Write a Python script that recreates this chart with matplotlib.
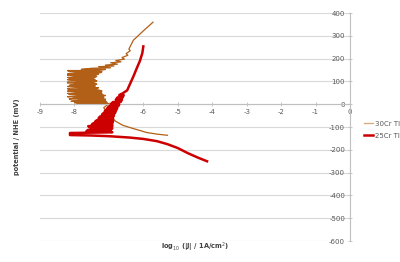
import matplotlib.pyplot as plt

# 30Cr TI: sweep from the cathodic tail up through the noisy passive band to the top
cr30_tail_x = [-5.3, -5.6, -5.9, -6.1, -6.35, -6.6, -6.8, -6.95, -7.05, -7.15]
cr30_tail_y = [-136, -131, -124, -115, -104, -92, -75, -55, -35, -15]

# noisy band: each level has a left and a right end
cr30_band_y = [3, 8, 13, 18, 23, 28, 33, 38, 43, 48, 53, 58, 63, 68, 73, 78,
               83, 88, 93, 98, 103, 108, 113, 118, 123, 128, 133, 138, 143, 148, 153]
cr30_band_left = [-7.9, -8.0, -8.1, -7.85, -8.15, -8.0, -8.2, -7.9, -8.15, -8.2,
                  -7.95, -8.2, -8.1, -8.2, -7.85, -8.2, -8.15, -8.0, -8.2, -8.2,
                  -7.9, -8.2, -8.15, -8.2, -8.0, -8.2, -8.2, -7.95, -8.15, -8.2, -7.8]
cr30_band_right = [-7.0, -7.05, -7.1, -7.1, -7.1, -7.15, -7.15, -7.1, -7.2, -7.2,
                   -7.25, -7.2, -7.3, -7.35, -7.3, -7.4, -7.4, -7.35, -7.45, -7.4,
                   -7.35, -7.4, -7.45, -7.4, -7.35, -7.4, -7.3, -7.25, -7.2, -7.3, -7.1]

cr30_top_x = [-7.5, -6.95, -7.3, -6.85, -7.1, -6.75, -6.95, -6.65, -6.8, -6.55,
              -6.62, -6.45, -6.5, -6.38, -6.42, -6.29, -6.0, -5.72]
cr30_top_y = [158, 160, 165, 168, 172, 176, 182, 186, 192, 198,
              205, 215, 222, 235, 242, 281, 322, 360]

# 25Cr TI: cathodic branch, then the thick stepped band, then the thin anodic line
cr25_cath_x = [-4.15, -4.4, -4.7, -5.0, -5.3, -5.6, -6.0, -6.4, -6.7, -7.0, -7.5, -8.13, -8.13, -6.9]
cr25_cath_y = [-250, -235, -215, -192, -175, -162, -152, -146, -143, -140, -137, -135, -126, -123]

cr25_band_y = [-118, -112, -105, -96, -90, -83, -76, -70, -61, -53, -45, -38, -30, -24, -18, -9, 0, 10, 20, 30, 40]
cr25_band_left = [-7.65, -7.6, -7.5, -7.6, -7.5, -7.45, -7.4, -7.35, -7.3, -7.25, -7.2, -7.15, -7.12, -7.08,
                  -7.05, -7.0, -6.95, -6.88, -6.8, -6.75, -6.7]
cr25_band_right = [-6.95, -6.95, -6.9, -6.9, -6.9, -6.9, -6.88, -6.88, -6.88, -6.86, -6.85, -6.82, -6.8, -6.78,
                   -6.76, -6.73, -6.7, -6.66, -6.62, -6.6, -6.57]

cr25_top_x = [-6.6, -6.47, -6.37, -6.28, -6.18, -6.1, -6.03, -6.0]
cr25_top_y = [48, 61, 95, 125, 162, 190, 224, 254]

xticks = [-9, -8, -7, -6, -5, -4, -3, -2, -1, 0]
yticks = [400, 300, 200, 100, 0, -100, -200, -300, -400, -500, -600]


def zigzag(ys, lefts, rights):
    xs, yy = [], []
    for i in range(len(ys)):
        if i % 2 == 0:
            xs += [rights[i], lefts[i]]
        else:
            xs += [lefts[i], rights[i]]
        yy += [ys[i], ys[i]]
    return xs, yy


bx, by = zigzag(cr30_band_y, cr30_band_left, cr30_band_right)
cr30_x = cr30_tail_x + bx + cr30_top_x
cr30_y = cr30_tail_y + by + cr30_top_y

rx, ry = zigzag(cr25_band_y, cr25_band_left, cr25_band_right)
cr25_x = cr25_cath_x + rx + cr25_top_x
cr25_y = cr25_cath_y + ry + cr25_top_y

fig = plt.figure(figsize=(4, 2.62), dpi=100)
ax = fig.add_axes([0.1, 0.08, 0.775, 0.87])

for t in yticks:
    ax.axhline(t, color='#D9D9D9', lw=0.8, zorder=0)

ax.plot(cr30_x, cr30_y, color='#B25F18', lw=0.9, label='30Cr TI', zorder=2)
ax.plot(cr25_x, cr25_y, color='#CC0000', lw=1.8, label='25Cr TI', zorder=3)

ax.set_xlim(-9, 0)
ax.set_ylim(-600, 400)
ax.set_xticks(xticks)
ax.set_yticks(yticks)
ax.set_xticklabels([str(t) for t in xticks])
ax.set_yticklabels([str(t) for t in yticks])

ax.spines['top'].set_visible(False)
ax.spines['right'].set_visible(False)
ax.spines['left'].set_position(('data', 0))
ax.spines['bottom'].set_position(('data', 0))
for s in ['left', 'bottom']:
    ax.spines[s].set_color('#BFBFBF')
    ax.spines[s].set_linewidth(0.8)
ax.tick_params(axis='both', labelsize=5, colors='#BFBFBF', labelcolor='#595959',
               direction='inout', length=3, width=0.6, pad=2)

fig.text(0.043, 0.48, 'potential / NHE (mV)', rotation=90, ha='center', va='center',
         fontsize=4.8, fontweight='bold', color='#404040')
fig.text(0.4875, 0.057, r'log$_{10}$ (|J| / 1A/cm$^2$)', ha='center', va='center',
         fontsize=4.8, fontweight='bold', color='#404040')

leg = fig.legend(handles=ax.get_lines()[-2:], loc='center left', bbox_to_anchor=(0.895, 0.505),
                 frameon=False, fontsize=5, handlelength=1.3, handletextpad=0.3,
                 labelspacing=0.9, labelcolor='#595959')
leg.legend_handles[0].set_color('#D9A878')

fig.savefig('out.png', dpi=100)
